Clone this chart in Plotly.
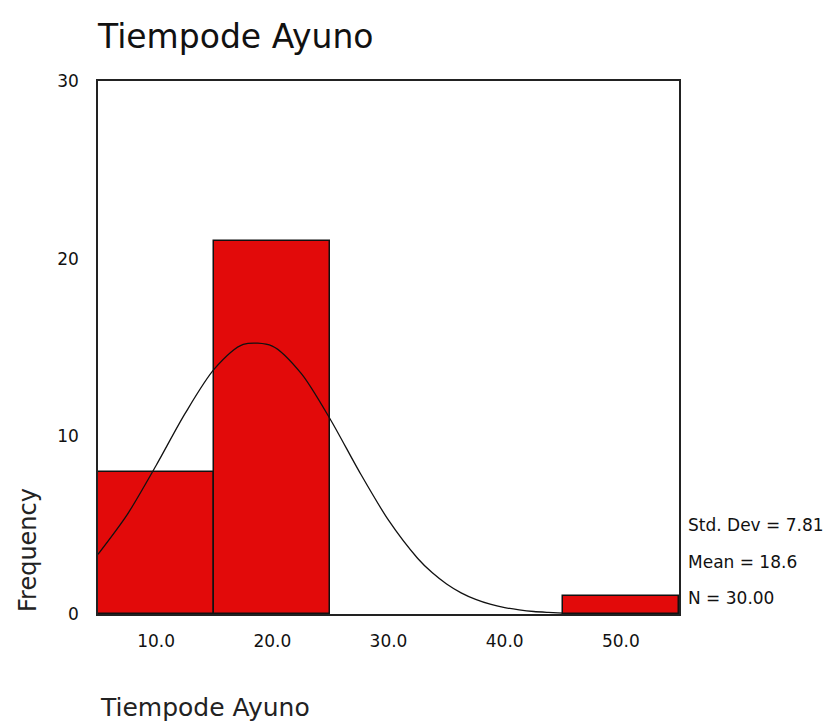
import plotly.graph_objects as go

# Histogram data (bin centers, counts), bin width 10
bin_centers = [10, 20, 30, 40, 50]
counts = [8, 21, 0, 0, 1]
bin_width = 10

# Normal curve points
curve_x = [5, 7.5, 10, 12.5, 15, 17.5, 20, 22.5, 25, 27.5, 30, 32.5, 33.75, 35, 36.25,
           37.5, 38.75, 40, 41.25, 42.5, 43.75, 45]
curve_y = [3.36, 5.58, 8.36, 11.29, 13.78, 15.17, 15.08, 13.53, 10.95, 8.0, 5.28, 3.14, 2.33,
           1.69, 1.19, 0.82, 0.55, 0.36, 0.23, 0.14, 0.09, 0.05]

x_ticks = [10, 20, 30, 40, 50]
x_tick_labels = ["10.0", "20.0", "30.0", "40.0", "50.0"]
y_ticks = [0, 10, 20, 30]
y_tick_labels = ["0", "10", "20", "30"]

stats_lines = ["Std. Dev = 7.81", "Mean = 18.6", "N = 30.00"]
stats_y = [0.167, 0.0976, 0.030]

W, H = 832, 722
L, R, T, B = 98, 679, 81, 614

fig = go.Figure()
fig.add_trace(go.Bar(
    x=bin_centers, y=counts, width=[bin_width] * len(counts),
    marker=dict(color="#E20A0A",
                line=dict(color="#111111", width=[1.5 if c > 0 else 0 for c in counts])),
    showlegend=False, hoverinfo="skip",
))
fig.add_trace(go.Scatter(
    x=curve_x, y=curve_y, mode="lines",
    line=dict(color="#111111", width=1.3, shape="spline", smoothing=0.8),
    showlegend=False, hoverinfo="skip",
))

tick_font = dict(family="DejaVu Sans", size=17, color="#111111")

fig.update_layout(
    width=W, height=H,
    margin=dict(l=L, r=W - R, t=T, b=H - B, pad=0),
    paper_bgcolor="white", plot_bgcolor="white",
    bargap=0,
    title=dict(
        text="Tiempode Ayuno",
        font=dict(family="DejaVu Sans", size=33, color="#111111"),
        x=L / W, xanchor="left", xref="container",
        y=1 - 36 / H, yanchor="middle", yref="container",
    ),
    xaxis=dict(
        range=[5, 55], tickvals=x_ticks, ticktext=x_tick_labels,
        showgrid=False, zeroline=False, ticks="",
        showline=True, linecolor="#222222", linewidth=1.5, mirror=True,
        tickfont=tick_font, ticklabelstandoff=11,
    ),
    yaxis=dict(
        range=[0, 30], tickvals=y_ticks, ticktext=y_tick_labels,
        showgrid=False, zeroline=False, ticks="",
        showline=True, linecolor="#222222", linewidth=1.5, mirror=True,
        tickfont=tick_font, ticklabelstandoff=14,
    ),
)

# Axis titles placed like the original
fig.add_annotation(
    text="Frequency", textangle=-90, showarrow=False,
    xref="paper", yref="paper", x=(28 - L) / (R - L), y=(B - 550) / (B - T),
    xanchor="center", yanchor="middle",
    font=dict(family="DejaVu Sans", size=24, color="#222222"),
)
fig.add_annotation(
    text="Tiempode Ayuno", showarrow=False,
    xref="paper", yref="paper", x=0, y=(B - 707) / (B - T),
    xanchor="left", yanchor="middle",
    font=dict(family="DejaVu Sans", size=25, color="#222222"),
)
for line, yy in zip(stats_lines, stats_y):
    fig.add_annotation(
        text=line, showarrow=False,
        xref="paper", yref="paper", x=(686 - L) / (R - L), y=yy,
        xanchor="left", yanchor="middle",
        font=dict(family="DejaVu Sans", size=17, color="#111111"),
    )

fig.write_html("out.html")
